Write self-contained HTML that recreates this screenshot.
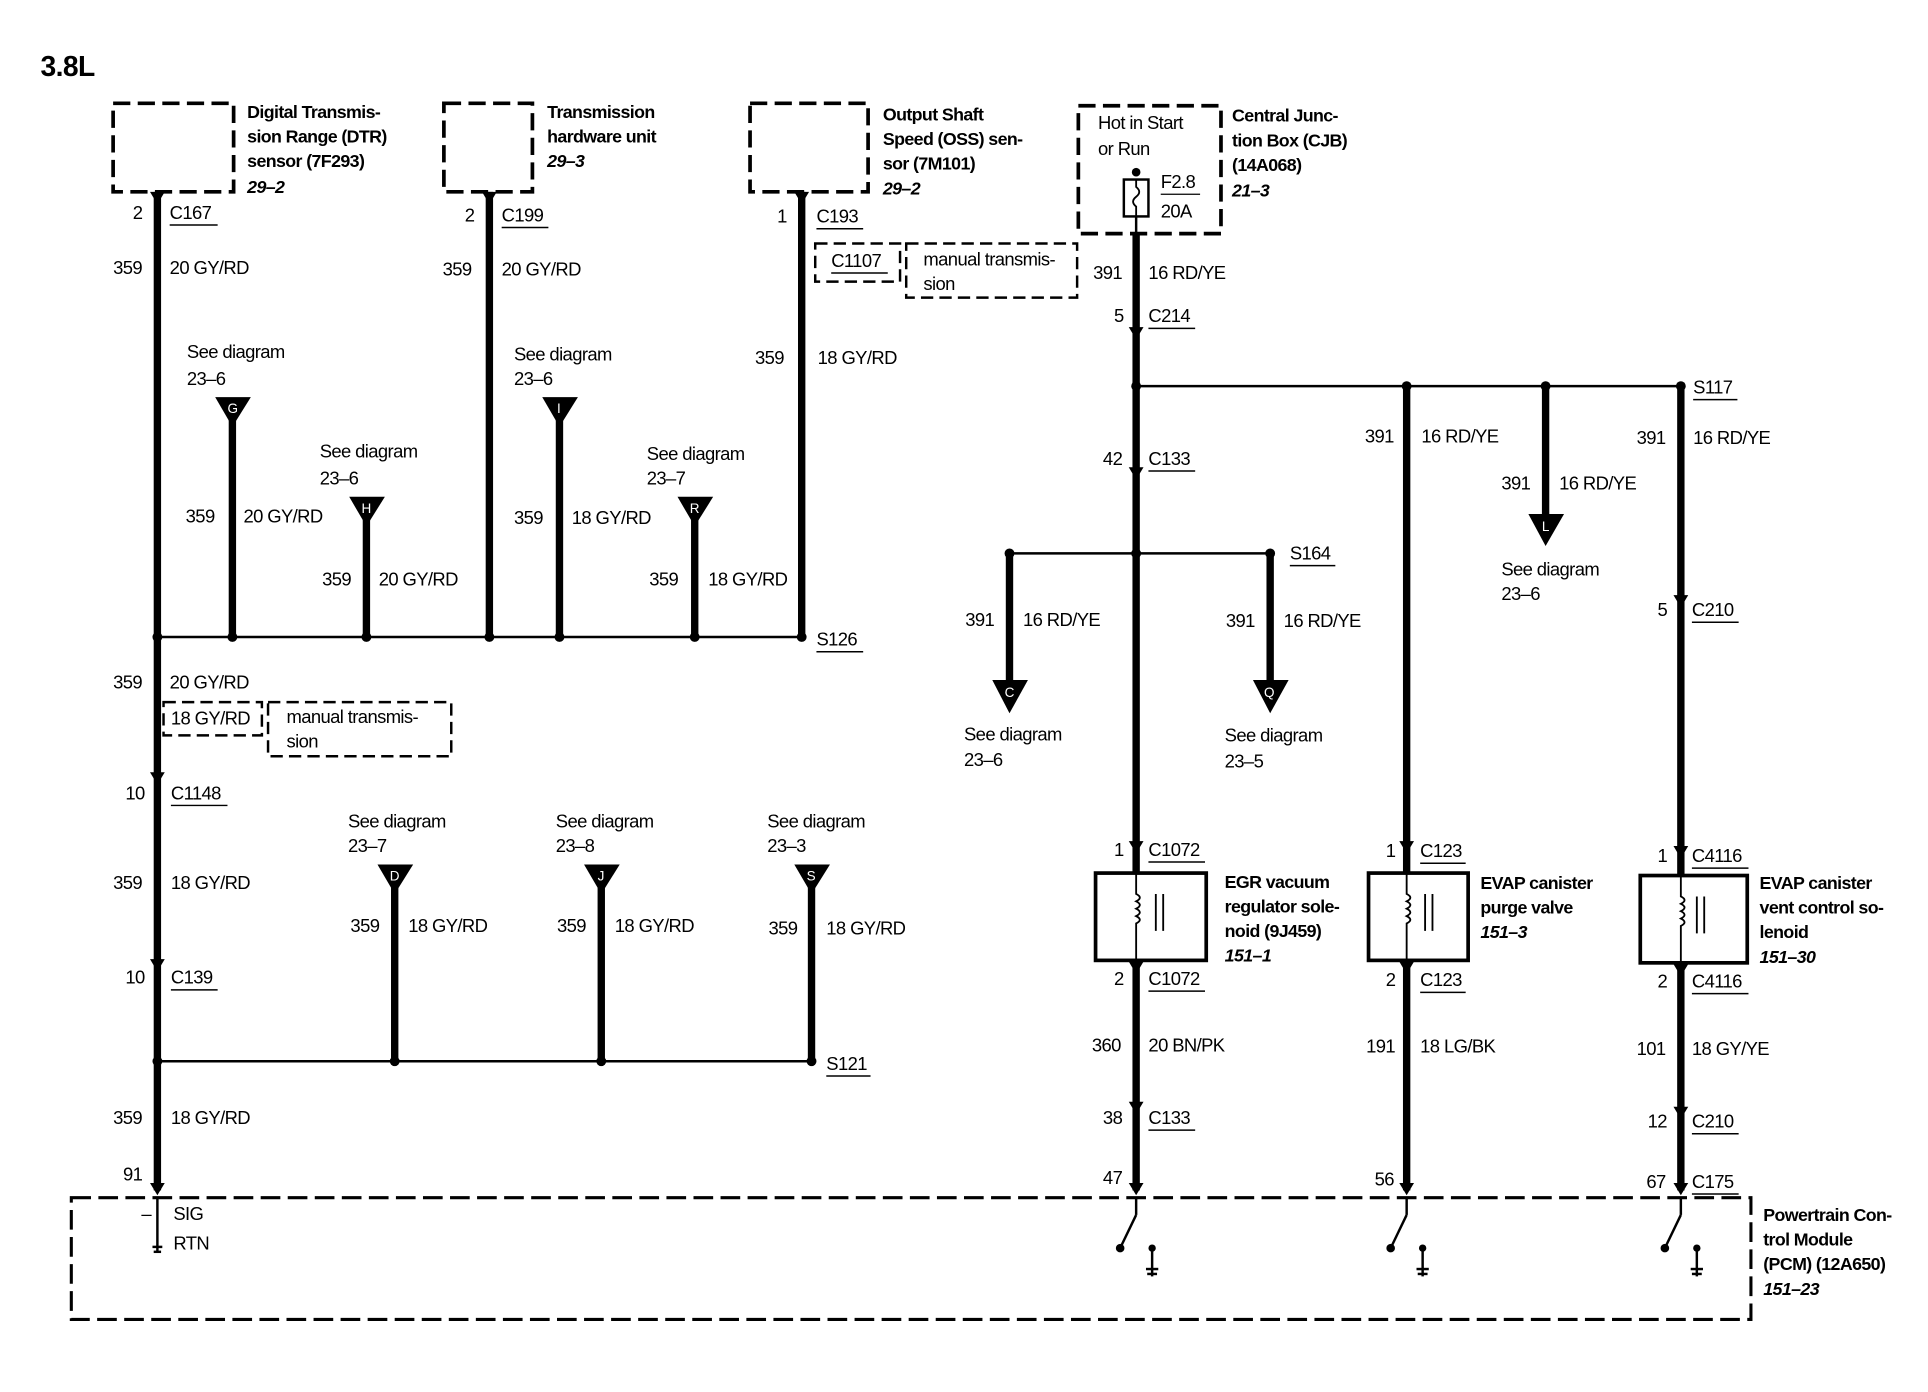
<!DOCTYPE html>
<html><head><meta charset="utf-8"><style>
html,body{margin:0;padding:0;background:#fff;}
svg{display:block}
text{font-family:"Liberation Sans",sans-serif;font-size:15px;fill:#000;letter-spacing:-0.5px}
.b{font-weight:bold;font-size:14.5px}
.i{font-weight:bold;font-style:italic;font-size:14.5px}
text.w{fill:#fff;font-size:11px;letter-spacing:0}
</style></head><body>
<svg width="1928" height="1392" viewBox="0 0 1568 1132" preserveAspectRatio="none" xmlns="http://www.w3.org/2000/svg">
<defs>
<g id="arr"><polygon points="-6,-6 6,-6 0,4" fill="#000"/></g>
</defs>
<text x="33" y="62" style="font-size:23px;font-weight:bold">3.8L</text>

<!-- dashed boxes -->
<g fill="none" stroke="#000" stroke-width="3" stroke-dasharray="14,6">
<rect x="92" y="84" width="98" height="72"/>
<rect x="361" y="84" width="72" height="72"/>
<rect x="610" y="84" width="96" height="72"/>
<rect x="877" y="86" width="116" height="104"/>
</g>
<g fill="none" stroke="#000" stroke-width="2" stroke-dasharray="10,5">
<rect x="663" y="198" width="69" height="31"/>
<rect x="737" y="198" width="139" height="44"/>
<rect x="133" y="571" width="80" height="27"/>
<rect x="218" y="571" width="149" height="44"/>
<rect x="58" y="974" width="1366" height="99" stroke-width="2.5" stroke-dasharray="16,6"/>
</g>

<text class="b" x="201" y="96">Digital Transmis-</text>
<text class="b" x="201" y="116">sion Range (DTR)</text>
<text class="b" x="201" y="136">sensor (7F293)</text>
<text class="i" x="201" y="157">29–2</text>
<text class="b" x="445" y="96">Transmission</text>
<text class="b" x="445" y="116">hardware unit</text>
<text class="i" x="445" y="136">29–3</text>
<text class="b" x="718" y="98">Output Shaft</text>
<text class="b" x="718" y="118">Speed (OSS) sen-</text>
<text class="b" x="718" y="138">sor (7M101)</text>
<text class="i" x="718" y="158">29–2</text>
<text x="893" y="105">Hot in Start</text>
<text x="893" y="126">or Run</text>
<text class="b" x="1002" y="99">Central Junc-</text>
<text class="b" x="1002" y="119">tion Box (CJB)</text>
<text class="b" x="1002" y="139">(14A068)</text>
<text class="i" x="1002" y="160">21–3</text>
<!-- fuse -->
<circle cx="924" cy="140" r="3.5"/>
<rect x="914" y="146" width="20" height="30" fill="none" stroke="#000" stroke-width="2"/>
<path d="M924 146 v6 q5 4 0 8 q-5 4 0 8 v8" fill="none" stroke="#000" stroke-width="1.5"/>
<text x="944" y="153">F2.8</text><line x1="944" y1="158" x2="976" y2="158" stroke="#000"/>
<text x="944" y="177">20A</text>

<!-- thick wires -->
<g stroke="#000" stroke-width="6">
<line x1="128" y1="156" x2="128" y2="968"/>
<line x1="398" y1="156" x2="398" y2="518"/>
<line x1="652" y1="156" x2="652" y2="518"/>
<line x1="189" y1="340" x2="189" y2="518"/>
<line x1="298" y1="420" x2="298" y2="518"/>
<line x1="455" y1="340" x2="455" y2="518"/>
<line x1="565" y1="420" x2="565" y2="518"/>
<line x1="321" y1="720" x2="321" y2="863"/>
<line x1="489" y1="720" x2="489" y2="863"/>
<line x1="660" y1="720" x2="660" y2="863"/>
<line x1="924" y1="190" x2="924" y2="710"/>
<line x1="924" y1="781" x2="924" y2="968"/>
<line x1="821" y1="450" x2="821" y2="556"/>
<line x1="1033" y1="450" x2="1033" y2="556"/>
<line x1="1144" y1="314" x2="1144" y2="710"/>
<line x1="1144" y1="781" x2="1144" y2="968"/>
<line x1="1257" y1="314" x2="1257" y2="420"/>
<line x1="1367" y1="314" x2="1367" y2="712"/>
<line x1="1367" y1="783" x2="1367" y2="968"/>
</g>
<g stroke="#000" stroke-width="2">
<line x1="128" y1="518" x2="652" y2="518"/>
<line x1="128" y1="863" x2="660" y2="863"/>
<line x1="924" y1="314" x2="1367" y2="314"/>
<line x1="821" y1="450" x2="1033" y2="450"/>
<line x1="924" y1="176" x2="924" y2="190"/>
</g>
<g fill="#000">
<circle cx="128" cy="518" r="4"/><circle cx="189" cy="518" r="4"/><circle cx="298" cy="518" r="4"/><circle cx="398" cy="518" r="4"/><circle cx="455" cy="518" r="4"/><circle cx="565" cy="518" r="4"/><circle cx="652" cy="518" r="4"/>
<circle cx="128" cy="863" r="4"/><circle cx="321" cy="863" r="4"/><circle cx="489" cy="863" r="4"/><circle cx="660" cy="863" r="4"/>
<circle cx="924" cy="314" r="4"/><circle cx="1144" cy="314" r="4"/><circle cx="1257" cy="314" r="4"/><circle cx="1367" cy="314" r="4"/>
<circle cx="924" cy="450" r="4"/><circle cx="821" cy="450" r="4"/><circle cx="1033" cy="450" r="4"/>
</g>
<!-- connector arrows -->
<use href="#arr" x="128" y="162"/><use href="#arr" x="398" y="162"/><use href="#arr" x="652" y="162"/>
<use href="#arr" x="128" y="634"/><use href="#arr" x="128" y="786"/><use href="#arr" x="128" y="968"/>
<use href="#arr" x="924" y="272"/><use href="#arr" x="924" y="386"/><use href="#arr" x="924" y="690"/><use href="#arr" x="924" y="788"/><use href="#arr" x="924" y="902"/><use href="#arr" x="924" y="968"/>
<use href="#arr" x="1144" y="690"/><use href="#arr" x="1144" y="788"/><use href="#arr" x="1144" y="968"/>
<use href="#arr" x="1367" y="490"/><use href="#arr" x="1367" y="694"/><use href="#arr" x="1367" y="790"/><use href="#arr" x="1367" y="906"/><use href="#arr" x="1367" y="968"/>

<!-- tap triangles -->
<g fill="#000">
<polygon points="175,323 204,323 189,347"/><polygon points="284,404 313,404 298,428"/>
<polygon points="441,323 470,323 455,347"/><polygon points="551,404 580,404 565,428"/>
<polygon points="307,703 336,703 321,727"/><polygon points="475,703 504,703 489,727"/><polygon points="646,703 675,703 660,727"/>
<polygon points="807,553 836,553 821,580"/><polygon points="1019,553 1048,553 1033,580"/><polygon points="1243,418 1272,418 1257,444"/>
</g>
<text class="w" x="185" y="336">G</text><text class="w" x="294" y="417">H</text>
<text class="w" x="453" y="336">I</text><text class="w" x="561" y="417">R</text>
<text class="w" x="317" y="716">D</text><text class="w" x="486" y="716">J</text><text class="w" x="656" y="716">S</text>
<text class="w" x="817" y="567">C</text><text class="w" x="1028" y="567">Q</text><text class="w" x="1254" y="432">L</text>

<!-- component boxes -->
<g fill="none" stroke="#000" stroke-width="3">
<rect x="891" y="710" width="90" height="71"/>
<rect x="1113" y="710" width="81" height="71"/>
<rect x="1334" y="712" width="87" height="71"/>
</g>
<g fill="none" stroke="#000" stroke-width="1.5">
<path d="M924 710 v17 q6 3 0 6 q6 3 0 6 q6 3 0 6 q6 3 0 6 v30 M940 727 v30 M946 727 v30"/>
<path d="M1144 710 v17 q6 3 0 6 q6 3 0 6 q6 3 0 6 q6 3 0 6 v30 M1159 727 v30 M1165 727 v30"/>
<path d="M1367 712 v17 q6 3 0 6 q6 3 0 6 q6 3 0 6 q6 3 0 6 v30 M1380 729 v30 M1386 729 v30"/>
</g>
<text class="b" x="996" y="722">EGR vacuum</text><text class="b" x="996" y="742">regulator sole-</text><text class="b" x="996" y="762">noid (9J459)</text><text class="i" x="996" y="782">151–1</text>
<text class="b" x="1204" y="723">EVAP canister</text><text class="b" x="1204" y="743">purge valve</text><text class="i" x="1204" y="763">151–3</text>
<text class="b" x="1431" y="723">EVAP canister</text><text class="b" x="1431" y="743">vent control so-</text><text class="b" x="1431" y="763">lenoid</text><text class="i" x="1431" y="783">151–30</text>
<text class="b" x="1434" y="993">Powertrain Con-</text><text class="b" x="1434" y="1013">trol Module</text><text class="b" x="1434" y="1033">(PCM) (12A650)</text><text class="i" x="1434" y="1053">151–23</text>

<!-- PCM switches/grounds -->
<g stroke="#000" stroke-width="2" fill="#000">
<line x1="924" y1="975" x2="924" y2="988"/><line x1="924" y1="988" x2="911" y2="1015"/><circle cx="911" cy="1015" r="2.5"/>
<line x1="937" y1="1015" x2="937" y2="1038"/><circle cx="937" cy="1015" r="2"/><line x1="932" y1="1032" x2="942" y2="1032"/><line x1="933" y1="1036" x2="941" y2="1036"/>
<line x1="1144" y1="975" x2="1144" y2="988"/><line x1="1144" y1="988" x2="1131" y2="1015"/><circle cx="1131" cy="1015" r="2.5"/>
<line x1="1157" y1="1015" x2="1157" y2="1038"/><circle cx="1157" cy="1015" r="2"/><line x1="1152" y1="1032" x2="1162" y2="1032"/><line x1="1153" y1="1036" x2="1161" y2="1036"/>
<line x1="1367" y1="975" x2="1367" y2="988"/><line x1="1367" y1="988" x2="1354" y2="1015"/><circle cx="1354" cy="1015" r="2.5"/>
<line x1="1380" y1="1015" x2="1380" y2="1038"/><circle cx="1380" cy="1015" r="2"/><line x1="1375" y1="1032" x2="1385" y2="1032"/><line x1="1376" y1="1036" x2="1384" y2="1036"/>
<line x1="128" y1="975" x2="128" y2="1018"/><line x1="124" y1="1014" x2="132" y2="1014"/><line x1="125" y1="1018" x2="131" y2="1018"/>
</g>

<!-- labels left -->
<text x="108" y="178">2</text><text x="138" y="178">C167</text>
<text x="92" y="223">359</text><text x="138" y="223">20 GY/RD</text>
<text x="378" y="180">2</text><text x="408" y="180">C199</text>
<text x="360" y="224">359</text><text x="408" y="224">20 GY/RD</text>
<text x="632" y="181">1</text><text x="664" y="181">C193</text>
<text x="676" y="217">C1107</text><text x="751" y="216">manual transmis-</text><text x="751" y="236">sion</text>
<text x="614" y="296">359</text><text x="665" y="296">18 GY/RD</text>
<text x="152" y="291">See diagram</text><text x="152" y="313">23–6</text>
<text x="151" y="425">359</text><text x="198" y="425">20 GY/RD</text>
<text x="260" y="372">See diagram</text><text x="260" y="394">23–6</text>
<text x="262" y="476">359</text><text x="308" y="476">20 GY/RD</text>
<text x="418" y="293">See diagram</text><text x="418" y="313">23–6</text>
<text x="418" y="426">359</text><text x="465" y="426">18 GY/RD</text>
<text x="526" y="374">See diagram</text><text x="526" y="394">23–7</text>
<text x="528" y="476">359</text><text x="576" y="476">18 GY/RD</text>
<text x="664" y="525">S126</text>
<text x="92" y="560">359</text><text x="138" y="560">20 GY/RD</text>
<text x="139" y="589">18 GY/RD</text><text x="233" y="588">manual transmis-</text><text x="233" y="608">sion</text>
<text x="102" y="650">10</text><text x="139" y="650">C1148</text>
<text x="92" y="723">359</text><text x="139" y="723">18 GY/RD</text>
<text x="102" y="800">10</text><text x="139" y="800">C139</text>
<text x="283" y="673">See diagram</text><text x="283" y="693">23–7</text>
<text x="285" y="758">359</text><text x="332" y="758">18 GY/RD</text>
<text x="452" y="673">See diagram</text><text x="452" y="693">23–8</text>
<text x="453" y="758">359</text><text x="500" y="758">18 GY/RD</text>
<text x="624" y="673">See diagram</text><text x="624" y="693">23–3</text>
<text x="625" y="760">359</text><text x="672" y="760">18 GY/RD</text>
<text x="672" y="870">S121</text>
<text x="92" y="914">359</text><text x="139" y="914">18 GY/RD</text>
<text x="100" y="960">91</text>
<text x="115" y="992">–</text><text x="141" y="992">SIG</text><text x="141" y="1016">RTN</text>

<!-- labels right -->
<text x="889" y="227">391</text><text x="934" y="227">16 RD/YE</text>
<text x="906" y="262">5</text><text x="934" y="262">C214</text>
<text x="1377" y="320">S117</text>
<text x="897" y="378">42</text><text x="934" y="378">C133</text>
<text x="1049" y="455">S164</text>
<text x="785" y="509">391</text><text x="832" y="509">16 RD/YE</text>
<text x="784" y="602">See diagram</text><text x="784" y="623">23–6</text>
<text x="997" y="510">391</text><text x="1044" y="510">16 RD/YE</text>
<text x="996" y="603">See diagram</text><text x="996" y="624">23–5</text>
<text x="1110" y="360">391</text><text x="1156" y="360">16 RD/YE</text>
<text x="1221" y="398">391</text><text x="1268" y="398">16 RD/YE</text>
<text x="1221" y="468">See diagram</text><text x="1221" y="488">23–6</text>
<text x="1331" y="361">391</text><text x="1377" y="361">16 RD/YE</text>
<text x="1348" y="501">5</text><text x="1376" y="501">C210</text>
<text x="906" y="696">1</text><text x="934" y="696">C1072</text>
<text x="1127" y="697">1</text><text x="1155" y="697">C123</text>
<text x="1348" y="701">1</text><text x="1376" y="701">C4116</text>
<text x="906" y="801">2</text><text x="934" y="801">C1072</text>
<text x="1127" y="802">2</text><text x="1155" y="802">C123</text>
<text x="1348" y="803">2</text><text x="1376" y="803">C4116</text>
<text x="888" y="855">360</text><text x="934" y="855">20 BN/PK</text>
<text x="1111" y="856">191</text><text x="1155" y="856">18 LG/BK</text>
<text x="1331" y="858">101</text><text x="1376" y="858">18 GY/YE</text>
<text x="897" y="914">38</text><text x="934" y="914">C133</text>
<text x="1340" y="917">12</text><text x="1376" y="917">C210</text>
<text x="897" y="963">47</text><text x="1118" y="964">56</text>
<text x="1339" y="966">67</text><text x="1376" y="966">C175</text>

<!-- underlines -->
<g stroke="#000" stroke-width="1.2">
<line x1="138" y1="183" x2="177" y2="183"/><line x1="408" y1="185" x2="446" y2="185"/><line x1="664" y1="186" x2="702" y2="186"/>
<line x1="676" y1="222" x2="722" y2="222"/><line x1="664" y1="530" x2="702" y2="530"/><line x1="139" y1="655" x2="185" y2="655"/>
<line x1="139" y1="805" x2="177" y2="805"/><line x1="672" y1="875" x2="708" y2="875"/>
<line x1="934" y1="267" x2="972" y2="267"/><line x1="1377" y1="325" x2="1413" y2="325"/><line x1="934" y1="383" x2="972" y2="383"/>
<line x1="1049" y1="460" x2="1086" y2="460"/><line x1="1376" y1="506" x2="1414" y2="506"/>
<line x1="934" y1="701" x2="980" y2="701"/><line x1="1155" y1="702" x2="1192" y2="702"/><line x1="1376" y1="706" x2="1422" y2="706"/>
<line x1="934" y1="806" x2="980" y2="806"/><line x1="1155" y1="807" x2="1192" y2="807"/><line x1="1376" y1="808" x2="1422" y2="808"/>
<line x1="934" y1="919" x2="972" y2="919"/><line x1="1376" y1="922" x2="1414" y2="922"/><line x1="1376" y1="971" x2="1414" y2="971"/>
</g>
</svg>
</body></html>
